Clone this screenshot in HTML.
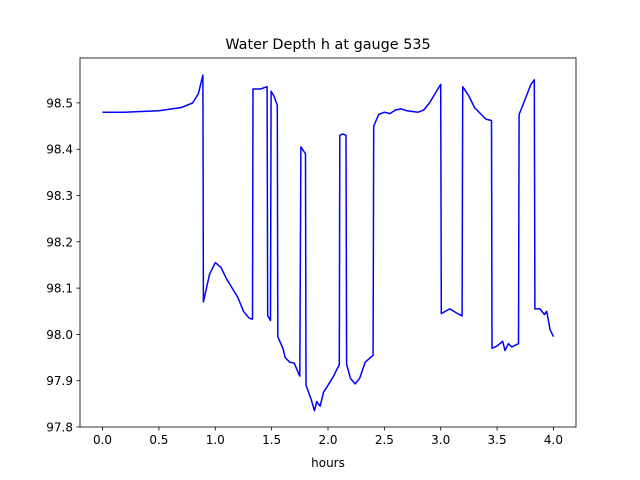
<!DOCTYPE html>
<html><head><meta charset="utf-8"><style>
body{margin:0;background:#fff;}
svg{display:block;font-family:"DejaVu Sans","Liberation Sans",sans-serif;}
</style></head><body>
<svg id="chart" width="640" height="480">
<rect width="640" height="480" fill="#fff"/>
<text x="328" y="49" text-anchor="middle" font-size="14.4">Water Depth h at gauge 535</text>
<text x="328" y="467" text-anchor="middle" font-size="12">hours</text>
<g id="xticks"></g>
<g id="yticks"></g>
<path id="line" fill="none" stroke="#0000ff" stroke-width="1.5" stroke-linejoin="round"/>
<rect x="80" y="58" width="496" height="369" fill="none" stroke="#000" stroke-width="0.8"/>
</svg>
<script>
const hours=[0,0.2,0.5,0.7,0.8,0.85,0.89,0.895,0.95,1.0,1.05,1.1,1.15,1.2,1.25,1.3,1.33,1.335,1.4,1.46,1.465,1.49,1.495,1.52,1.55,1.555,1.6,1.62,1.66,1.7,1.74,1.75,1.76,1.8,1.805,1.85,1.88,1.9,1.93,1.96,2.0,2.05,2.1,2.105,2.13,2.16,2.165,2.2,2.24,2.28,2.33,2.4,2.405,2.45,2.5,2.55,2.6,2.65,2.7,2.8,2.85,2.9,2.95,3.0,3.005,3.08,3.15,3.19,3.195,3.25,3.3,3.4,3.45,3.455,3.5,3.55,3.57,3.6,3.63,3.69,3.695,3.72,3.8,3.83,3.835,3.88,3.92,3.94,3.97,4.0];
const depth=[98.48,98.48,98.483,98.49,98.5,98.52,98.56,98.07,98.13,98.155,98.145,98.12,98.1,98.08,98.05,98.035,98.033,98.53,98.53,98.535,98.04,98.03,98.525,98.515,98.495,97.995,97.97,97.95,97.94,97.938,97.915,97.91,98.405,98.39,97.89,97.86,97.835,97.855,97.845,97.875,97.89,97.91,97.935,98.43,98.433,98.43,97.935,97.905,97.893,97.905,97.94,97.955,98.45,98.475,98.48,98.477,98.485,98.487,98.483,98.48,98.485,98.5,98.52,98.54,98.045,98.055,98.045,98.04,98.535,98.515,98.49,98.465,98.462,97.97,97.975,97.985,97.965,97.98,97.973,97.98,98.475,98.49,98.54,98.55,98.055,98.055,98.043,98.05,98.01,97.995];
const xTickLabels=["0.0","0.5","1.0","1.5","2.0","2.5","3.0","3.5","4.0"];
const yTickLabels=["97.8","97.9","98.0","98.1","98.2","98.3","98.4","98.5"];
const L=80,R=576,T=58,B=427,x0=-0.2,x1=4.2,y0=97.8,y1=98.597;
const sx=v=>L+(v-x0)/(x1-x0)*(R-L);
const sy=v=>B-(v-y0)/(y1-y0)*(B-T);
const NS="http://www.w3.org/2000/svg";
function mk(tag,attrs,parent,txt){const e=document.createElementNS(NS,tag);for(const k in attrs)e.setAttribute(k,attrs[k]);if(txt!==undefined)e.textContent=txt;parent.appendChild(e);return e;}
const gx=document.getElementById('xticks');
xTickLabels.forEach(t=>{const x=sx(parseFloat(t));
const l=mk('line',{x1:x,x2:x,y1:B,y2:B+3.5,stroke:'#000','stroke-width':0.8},gx);


const s=mk('text',{x:x,y:B+17,'text-anchor':'middle','font-size':12},gx,t);

});
const gy=document.getElementById('yticks');
yTickLabels.forEach(t=>{const y=sy(parseFloat(t));
const l=mk('line',{x1:L-3.5,x2:L,y1:y,y2:y,stroke:'#000','stroke-width':0.8},gy);


const s=mk('text',{x:L-7,y:y+4.5,'text-anchor':'end','font-size':12},gy,t);

});
document.getElementById('line').setAttribute('d',hours.map((h,i)=>(i?'L':'M')+sx(h).toFixed(1)+','+sy(depth[i]).toFixed(1)).join(''));
</script>
</body></html>
